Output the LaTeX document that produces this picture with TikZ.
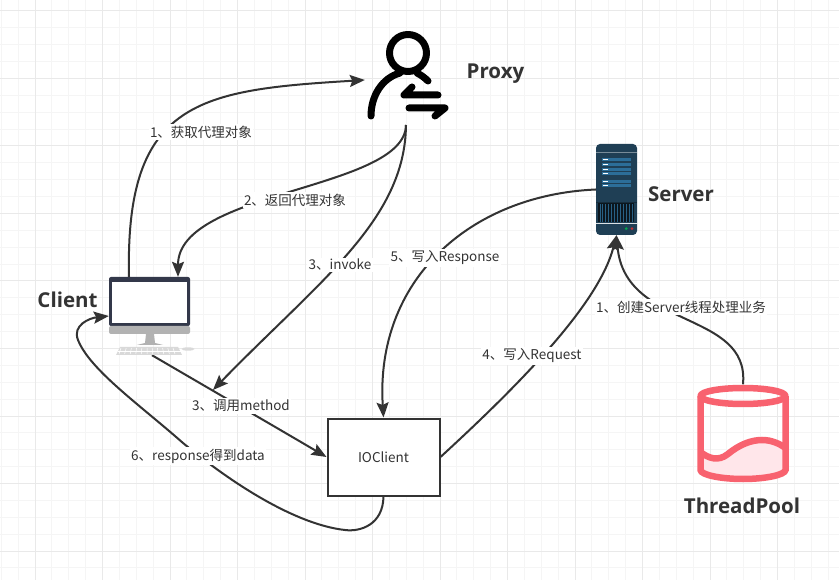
\documentclass[tikz,border=0pt]{standalone}
\usepackage{fontspec}
\setmainfont{Noto Sans CJK SC}
\newfontfamily\titlefont{Open Sans}
\usetikzlibrary{arrows.meta}
\definecolor{ink}{HTML}{333333}
\definecolor{gridmajor}{HTML}{E9E9E9}
\definecolor{gridminor}{HTML}{F5F5F5}
\definecolor{srv}{HTML}{1F3F55}
\definecolor{srvrow}{HTML}{2C6E99}
\definecolor{monitor}{HTML}{33384A}
\definecolor{poolred}{HTML}{F8626F}
\definecolor{poolfill}{HTML}{FFE6EA}
\tikzset{
  x=1pt,y=-1pt,
  conn/.style={draw=ink,line width=2pt,-{Stealth[length=15pt,width=12pt,inset=2.5pt]}},
  plain/.style={draw=ink,line width=2pt},
  lbl/.style={fill=white,text=ink,font=\fontsize{13.5}{16}\selectfont,inner sep=1.5pt},
  title/.style={text=ink,font=\titlefont\bfseries\fontsize{20.5}{24}\selectfont,inner sep=0pt},
  iconbox/.style={inner sep=0pt,draw=none},
  proxyline/.style={draw=black,line width=7pt,line cap=round,line join=round},
}
\begin{document}
\begin{tikzpicture}
\useasboundingbox (0,0) rectangle (839,580);
\fill[white] (0,0) rectangle (839,580);
% grid
\foreach \i in {0,...,49} {
  \pgfmathsetmacro{\gx}{1.25+16.875*\i}
  \draw[gridminor,line width=1pt] (\gx,0) -- (\gx,580);
}
\foreach \i in {0,...,34} {
  \pgfmathsetmacro{\gy}{11+16.875*\i}
  \draw[gridminor,line width=1pt] (0,\gy) -- (839,\gy);
}
\foreach \i in {0,...,11} {
  \pgfmathsetmacro{\gx}{35+67.5*\i}
  \draw[gridmajor,line width=1pt] (\gx,0) -- (\gx,580);
}
\foreach \i in {0,...,8} {
  \pgfmathsetmacro{\gy}{11+67.5*\i}
  \draw[gridmajor,line width=1pt] (0,\gy) -- (839,\gy);
}

% anchor boxes for the icons
\node[iconbox,minimum width=81pt,minimum height=78pt] (client) at (149.5,316) {};
\node[iconbox,minimum width=82pt,minimum height=90pt] (proxy) at (406,80) {};
\node[iconbox,minimum width=41pt,minimum height=91pt] (server) at (616.5,189.5) {};
\node[iconbox,minimum width=90pt,minimum height=98pt] (pool) at (743,433.5) {};
\node[draw=ink,line width=2pt,fill=white,minimum width=112pt,minimum height=77pt,inner sep=0pt,text=ink,font=\fontsize{13.5}{16}\selectfont] (io) at (383.5,457) {IOClient};

% connectors
\draw[conn] ([xshift=-20.5pt]client.north) .. controls (125,100) and (200,90) .. ([yshift=0pt]proxy.west);
\coordinate (pb) at (406,125);
\draw[conn] (pb) .. controls (405,190) and (178,190) .. ([xshift=28.5pt]client.north);
\coordinate (mtip) at (213,390);
\draw[conn] (pb) .. controls (405,220) and (320,280) .. (mtip);
\draw[conn] ([xshift=2.5pt]client.south) .. controls (215,392) and (260,418) .. (io.west);
\draw[conn] (io.east) .. controls (530,375) and (600,300) .. (server.south);
\draw[conn] (server.west) .. controls (470,195) and (375,280) .. (io.north);
\draw[conn] (pool.north) .. controls (750,310) and (625,330) .. (server.south);
\draw[conn] (io.south) .. controls (383,525) and (360,532) .. (345,530)
  .. controls (300,525) and (240,490) .. (183,443)
  .. controls (140,405) and (90,370) .. (78,340)
  .. controls (72,325) and (90,318) .. (client.west);

% labels
\node[lbl] (l1) at (201,132) {1、获取代理对象};
\node[lbl] (l2) at (295,200) {2、返回代理对象};
\node[lbl] (l3) at (340,265) {3、invoke};
\node[lbl] (l4) at (445,258) {5、写入Response};
\node[lbl] (l5) at (241,406) {3、调用method};
\node[lbl] (l6) at (532,356) {4、写入Request};
\node[lbl] (l7) at (198,456) {6、response得到data};
\node[lbl] (l8) at (681,307) {1、创建Server线程处理业务};

% titles
\node[title] (tproxy) at (495.5,74) {Proxy};
\node[title] (tserver) at (681,194) {Server};
\node[title] (tclient) at (67.5,300) {Client};
\node[title] (tpool) at (742,506) {ThreadPool};

% proxy icon
\draw[proxyline] (408,53) circle[radius=18.5];
\draw[proxyline] (371,116) .. controls (371,96) and (382,78) .. (400,73);
\draw[proxyline] (417,73) .. controls (421,75) and (425,78) .. (428,81);
\draw[proxyline] (438,95) -- (404,95) -- (412,87);
\draw[proxyline] (409,108) -- (445,108) -- (435,116);

% server icon
\fill[srv,rounded corners=4pt] (596,144) rectangle (637,235);
\fill[srv!60!white] (596,152.5) rectangle (637,153.5);
\foreach \ry in {158,163,168,172,180,184} {
  \fill[srvrow] (602,\ry) rectangle (631,\ry+3.4);
  \fill[white] (603,\ry+1.2) rectangle (608,\ry+2.2);
}
\fill[srv!70!black] (596,202) rectangle (637,203);
\fill[black!65!srv] (598,203.5) rectangle (634,222);
\foreach \i in {0,...,11} {
  \fill[srvrow!70!srv] (599.5+\i*2.95,204) rectangle (600.2+\i*2.95,222);
}
\fill[white!85!srv] (596,223) rectangle (637,224);
\fill[green!50!black!70!cyan] (626.3,228.6) circle[radius=1.5];
\fill[red!70!srv!90!white] (632,228.6) circle[radius=1.5];

% client icon
\fill[monitor,rounded corners=2pt] (109,277) rectangle (190,326);
\fill[white] (112,282) rectangle (187,323);
\fill[black!30,rounded corners=2pt] (109,326) rectangle (190,334);
\fill[black!30] (146,334) -- (154,334) -- (155,343) -- (163,345) -- (137,345) -- (145,343) -- cycle;
\fill[black!15] (120,347) -- (178,347) -- (182,355) -- (116,355) -- cycle;
\foreach \i in {0,...,10} {\draw[white,line width=.5pt] (121+\i*5.2,348) -- (119+\i*5.6,354);}
\draw[white,line width=.5pt] (118,351) -- (181,351);
\fill[black!15] (188,349) ellipse[x radius=6.5,y radius=1.7];

% pool icon
\fill[poolfill] (700.5,452) .. controls (708,458) and (718,462) .. (728,454)
  .. controls (740,444) and (752,440) .. (762,440)
  .. controls (772,440) and (780,444) .. (785.5,448)
  -- (785.5,470) .. controls (785,475) and (765,479) .. (743,479)
  .. controls (721,479) and (701,475) .. (700.5,470) -- cycle;
\draw[poolred,line width=6.5pt,line join=round] (743,396) ellipse[x radius=42.5,y radius=8];
\draw[poolred,line width=6.5pt] (700.5,396) -- (700.5,470) .. controls (701,475) and (721,479) .. (743,479)
  .. controls (765,479) and (785,475) .. (785.5,470) -- (785.5,396);
\draw[poolred,line width=6.5pt] (700.5,452) .. controls (708,458) and (718,462) .. (728,454)
  .. controls (740,444) and (752,440) .. (762,440)
  .. controls (772,440) and (780,444) .. (785.5,448);
\end{tikzpicture}
\end{document}
